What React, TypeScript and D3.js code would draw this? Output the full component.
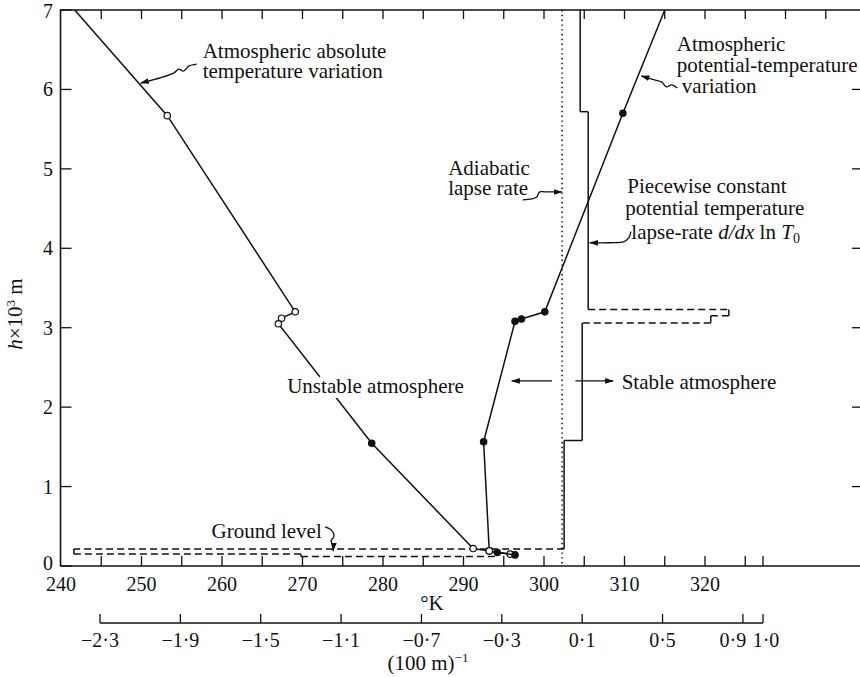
import React from "react";
import * as d3 from "d3";

const W = 860;
const H = 677;
const FONT = "'Liberation Serif', 'Times New Roman', serif";

// atmospheric absolute temperature (K) against height (x10^3 m)
const absT = [241.7, 253.2, 269.1, 267.4, 267.0, 278.6, 291.2, 293.2, 295.8];
const absH = [7.0, 5.67, 3.2, 3.12, 3.05, 1.545, 0.22, 0.19, 0.15];
const absMark = ["", "o", "o", "o", "o", "f", "o", "o", "o"];

// atmospheric potential temperature (K)
const potT = [315.0, 309.8, 300.1, 297.2, 296.4, 292.5, 293.2, 294.2, 296.4];
const potH = [7.0, 5.7, 3.2, 3.11, 3.08, 1.565, 0.19, 0.17, 0.14];
const potMark = ["", "f", "f", "f", "f", "f", "o", "f", "f"];

// piecewise constant lapse rate, on the (100 m)^-1 axis
const stepLapse = [0.09, 0.09, 0.13, 0.13, 0.83, 0.83, 0.74, 0.74, 0.1, 0.1, 0.01, 0.01, -2.43, -2.43, -1.3, -1.3, -0.32];
const stepH = [7, 5.72, 5.72, 3.23, 3.23, 3.15, 3.15, 3.06, 3.06, 1.58, 1.58, 0.215, 0.215, 0.15, 0.15, 0.12, 0.12];
const stepDashed = [0, 0, 0, 1, 1, 1, 1, 1, 0, 0, 0, 1, 1, 1, 1, 1];

// adiabatic lapse rate
const adiabaticLapse = 0;

// axes
const kLabels = [240, 250, 260, 270, 280, 290, 300, 310, 320];
const kBottomTicks = [245, 250, 255, 260, 265, 270, 275, 280, 285, 290, 295, 300, 305, 310, 315, 320, 325];
const kTopTicks = [245, 250, 255, 260, 265, 270, 275, 280, 285, 290, 295, 300, 305, 310, 315, 320, 325, 330, 335];
const lapseTicks = [-2.3, -1.9, -1.5, -1.1, -0.7, -0.3, 0.1, 0.5, 0.9, 1.0];
const hTicks = [0, 1, 2, 3, 4, 5, 6, 7];
const hRightTicks = [1, 2, 3, 4, 5, 6];

// annotation arrows: tip in data units, tail as pixel offsets from the tip
const arrows = [
  { T: 249.9, h: 6.08, path: [[56, -19], [48, -17], [43, -12], [38, -14], [33, -10], [0, 0]] },
  { T: 312.1, h: 6.17, path: [[36, 12], [30, 9], [25, 11], [20, 6], [13, 4], [0, 0]] },
  { T: 302.2, h: 4.71, path: [[-39, 8], [-30, 7], [-25, 5], [-22, 0], [-16, 0], [0, 0]] },
  { T: 305.7, h: 4.07, path: [[41, -11], [39, -5], [34, -1], [20, 0], [0, 0]] },
  { T: 273.8, h: 0.19, path: [[-8, -24], [-2, -21], [1, -15], [-2, -10], [0, -5], [0, 0]] },
];
const stableArrows = [
  { from: 301.0, to: 296.0, h: 2.33 },
  { from: 303.9, to: 308.6, h: 2.33 },
];

const x = d3.scaleLinear().domain([240, 340]).range([61, 866]);
const lapse = d3.scaleLinear().domain([-2.3, 1.0]).range([100, 763]);
const y = d3.scaleLinear().domain([0, 7]).range([566, 10]);

const fmtLapse = (d: number) => (d < 0 ? "\u2212" : "") + Math.abs(d).toFixed(1).replace(".", "\u00b7");

const line = d3.line<[number, number]>();
const curvy = d3.line<[number, number]>().curve(d3.curveCatmullRom.alpha(0.5));

function Series({ T, h, marks }: { T: number[]; h: number[]; marks: string[] }) {
  const pts = T.map((t, i) => [x(t), y(h[i])] as [number, number]);
  return (
    <g>
      <path d={line(pts) || ""} fill="none" stroke="#111" strokeWidth={1.5} />
      {pts.map((p, i) =>
        marks[i] ? (
          <circle
            key={i}
            cx={p[0]}
            cy={p[1]}
            r={3.2}
            fill={marks[i] === "f" ? "#111" : "#fff"}
            stroke="#111"
            strokeWidth={1.2}
          />
        ) : null
      )}
    </g>
  );
}

export default function App() {
  const stepPts = stepLapse.map((l, i) => [lapse(l), y(stepH[i])] as [number, number]);
  const x0 = x(240) - 0.5;
  const yb = y(0);
  const yt = y(7);
  const lapseY = 623;

  const txt = { fontFamily: FONT, fontSize: 21, fill: "#111" } as const;
  const tick = { fontFamily: FONT, fontSize: 20, fill: "#111" } as const;

  return (
    <svg width={W} height={H} style={{ position: "absolute", left: 0, top: 0, background: "#fff" }}>
      <defs>
        <marker id="ah" viewBox="0 0 10 10" refX={9} refY={5} markerWidth={9} markerHeight={9} orient="auto" markerUnits="userSpaceOnUse">
          <path d="M0,1.8 L10,5 L0,8.2 Z" fill="#111" />
        </marker>
      </defs>
      <rect width={W} height={H} fill="#fff" />

      {/* frame */}
      <path d={`M${x0},${yb}V${yt}H${W}`} fill="none" stroke="#111" strokeWidth={1.6} />
      <line x1={x0} x2={W} y1={yb} y2={yb} stroke="#111" strokeWidth={1.6} />

      {/* ticks */}
      {hTicks.map((d) => (
        <g key={"h" + d}>
          <line x1={x0} x2={x0 + 11} y1={y(d)} y2={y(d)} stroke="#111" strokeWidth={1.3} />
          <text {...tick} x={53} y={y(d) + (d === 0 ? 4 : d === 7 ? 8 : 7)} textAnchor="end">{d}</text>
        </g>
      ))}
      {hRightTicks.map((d) => (
        <line key={"r" + d} x1={W - 8} x2={W} y1={y(d)} y2={y(d)} stroke="#111" strokeWidth={1.3} />
      ))}
      {kTopTicks.map((d) => (
        <line key={"t" + d} x1={x(d)} x2={x(d)} y1={yt} y2={yt + 9} stroke="#111" strokeWidth={1.3} />
      ))}
      {kBottomTicks.map((d) => (
        <line key={"b" + d} x1={x(d)} x2={x(d)} y1={yb} y2={yb - 10} stroke="#111" strokeWidth={1.3} />
      ))}
      <line x1={lapse(1.0)} x2={lapse(1.0)} y1={yb} y2={yb - 10} stroke="#111" strokeWidth={1.3} />
      {kLabels.map((d) => (
        <text key={"kl" + d} {...tick} x={x(d)} y={591} textAnchor="middle">{d}</text>
      ))}
      <text {...txt} x={432} y={610} textAnchor="middle">°K</text>

      {/* lapse-rate axis */}
      <line x1={lapse(-2.3)} x2={lapse(1.0)} y1={lapseY} y2={lapseY} stroke="#111" strokeWidth={1.4} />
      {lapseTicks.map((d) => (
        <g key={"l" + d}>
          <line x1={lapse(d)} x2={lapse(d)} y1={lapseY} y2={lapseY - 9} stroke="#111" strokeWidth={1.3} />
          <text {...tick} x={lapse(d) + (d === 0.9 ? -10 : d === 1.0 ? 3 : 0)} y={647} textAnchor="middle">{fmtLapse(d)}</text>
        </g>
      ))}
      <text {...txt} x={428} y={670} textAnchor="middle">
        (100 m)<tspan dy={-8} fontSize={13}>−1</tspan>
      </text>

      {/* y label */}
      <text {...txt} transform="translate(22,314) rotate(-90)" textAnchor="middle">
        <tspan fontStyle="italic">h</tspan>×10<tspan dy={-7} fontSize={13}>3</tspan>
        <tspan dy={7}> m</tspan>
      </text>

      {/* adiabatic lapse rate */}
      <line x1={lapse(adiabaticLapse)} x2={lapse(adiabaticLapse)} y1={yt} y2={yb} stroke="#111" strokeWidth={1.6} strokeDasharray="1.4,3.4" />

      {/* piecewise constant lapse rate */}
      {stepPts.slice(1).map((p, i) => (
        <line
          key={"s" + i}
          x1={stepPts[i][0]}
          y1={stepPts[i][1]}
          x2={p[0]}
          y2={p[1]}
          stroke="#111"
          strokeWidth={1.5}
          strokeDasharray={stepDashed[i] ? "7,4" : undefined}
        />
      ))}

      <Series T={absT} h={absH} marks={absMark} />
      <Series T={potT} h={potH} marks={potMark} />

      {/* annotation arrows */}
      {arrows.map((a, i) => {
        const tx = x(a.T);
        const ty = y(a.h);
        const pts = a.path.map((o) => [tx + o[0], ty + o[1]] as [number, number]);
        return <path key={"a" + i} d={curvy(pts) || ""} fill="none" stroke="#111" strokeWidth={1.3} markerEnd="url(#ah)" />;
      })}
      {stableArrows.map((a, i) => (
        <line key={"sa" + i} x1={x(a.from)} x2={x(a.to)} y1={y(a.h)} y2={y(a.h)} stroke="#111" strokeWidth={1.3} markerEnd="url(#ah)" />
      ))}

      {/* labels */}
      <text {...txt} x={x(257.6)} y={y(6.4)}>
        <tspan>Atmospheric absolute</tspan>
        <tspan x={x(257.6)} dy={20}>temperature variation</tspan>
      </text>
      <text {...txt} x={x(316.5)} y={y(6.48)}>
        <tspan>Atmospheric</tspan>
        <tspan x={x(316.5)} dy={21}>potential-temperature</tspan>
        <tspan x={x(316.5) + 5} dy={21}>variation</tspan>
      </text>
      <text {...txt} x={x(288.1)} y={y(4.92)}>
        <tspan>Adiabatic</tspan>
        <tspan x={x(288.1)} dy={20}>lapse rate</tspan>
      </text>
      <text {...txt} x={x(310.35)} y={y(4.69)}>
        <tspan>Piecewise constant</tspan>
        <tspan x={x(310.35) - 2} dy={22}>potential  temperature</tspan>
        <tspan x={x(310.35) + 4} dy={24}>lapse-rate </tspan>
        <tspan fontStyle="italic">d/dx</tspan>
        <tspan> ln </tspan>
        <tspan fontStyle="italic">T</tspan>
        <tspan dy={4} fontSize={14}>0</tspan>
      </text>
      <text {...txt} x={x(268.1)} y={y(2.175)} stroke="#fff" strokeWidth={10} paintOrder="stroke">Unstable atmosphere</text>
      <text {...txt} x={x(309.65)} y={y(2.225)}>Stable atmosphere</text>
      <text {...txt} x={x(258.7)} y={y(0.35)}>Ground level</text>
    </svg>
  );
}
